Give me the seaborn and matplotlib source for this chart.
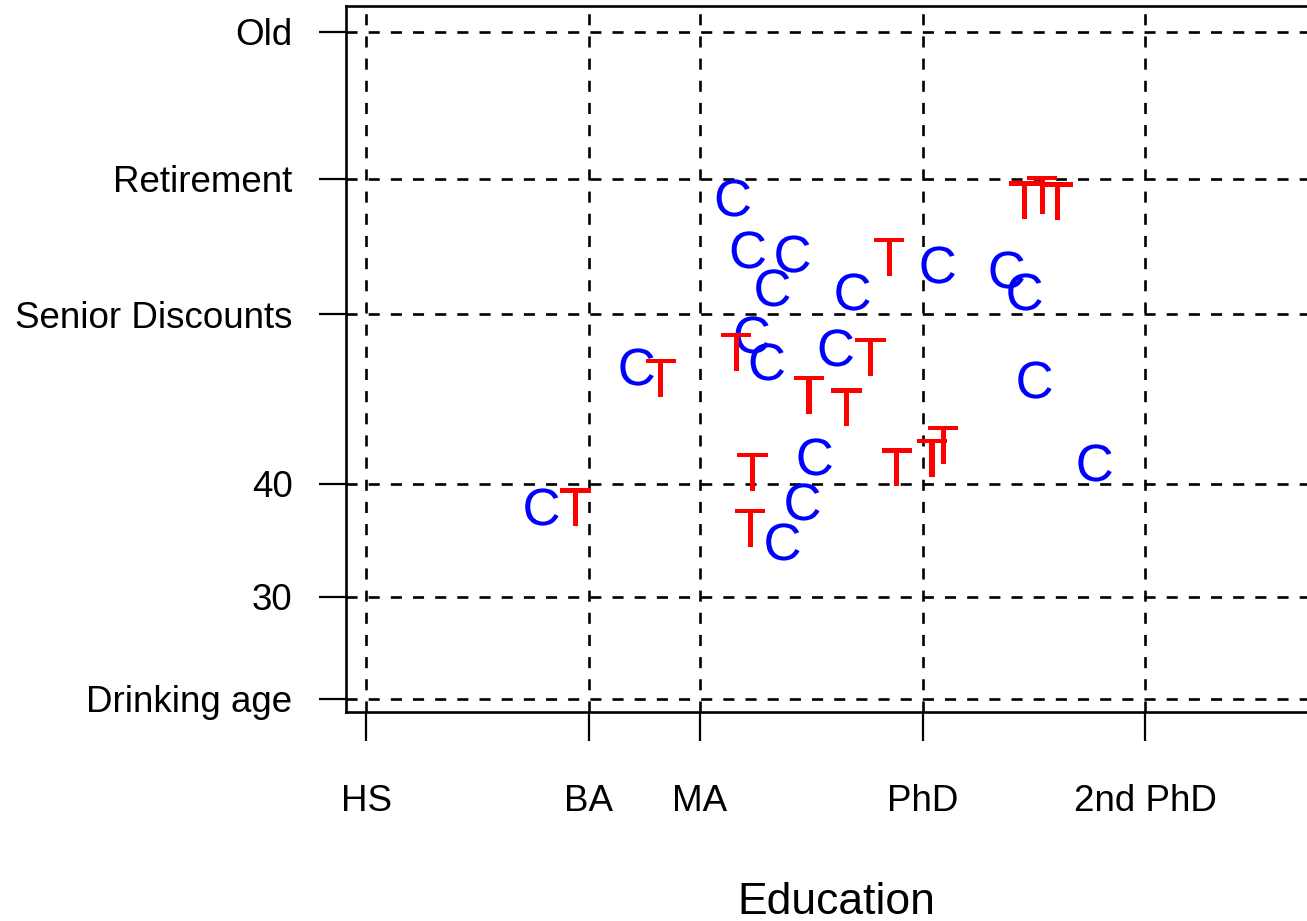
import matplotlib
matplotlib.use('Agg')
import matplotlib.pyplot as plt
import pandas as pd
import seaborn as sns

# Education in years of schooling, age in years
ctrl_edu = [15.16, 16.87, 18.60, 18.87, 19.67, 19.31, 18.94, 19.21, 20.45,
            20.75, 20.07, 19.85, 19.49, 22.28, 23.52, 23.84, 24.02, 25.10]
ctrl_age = [37.96, 50.35, 65.31, 60.71, 60.35, 57.35, 53.19, 50.80, 52.04,
            56.99, 42.39, 38.41, 34.87, 59.38, 58.94, 56.99, 49.20, 41.86]
treat_edu = [15.76, 17.30, 18.65, 18.94, 18.90, 19.96, 20.63, 21.06, 21.40,
             21.54, 22.17, 22.37, 23.83, 24.15, 24.42]
treat_age = [37.96, 49.38, 51.68, 41.06, 36.11, 47.88, 46.81, 51.24, 60.09,
             41.50, 42.30, 43.45, 65.13, 65.58, 65.04]

edu_ticks = [12, 16, 18, 22, 26]
edu_labels = ['HS', 'BA', 'MA', 'PhD', '2nd PhD']
age_ticks = [21, 30, 40, 55, 67, 80]
age_labels = ['Drinking age', '30', '40', 'Senior Discounts', 'Retirement', 'Old']

df = pd.DataFrame({
    'education': ctrl_edu + treat_edu,
    'age': ctrl_age + treat_age,
    'group': ['C'] * len(ctrl_edu) + ['T'] * len(treat_edu),
})

sns.set_theme(style='white')
plt.rcParams['font.family'] = ['Liberation Sans', 'DejaVu Sans']
plt.rcParams['mathtext.fontset'] = 'custom'
plt.rcParams['mathtext.rm'] = 'Liberation Sans'
plt.rcParams['mathtext.it'] = 'Liberation Sans'
plt.rcParams['text.color'] = 'black'
plt.rcParams['axes.labelcolor'] = 'black'

W, H = 1307, 921
fig = plt.figure(figsize=(W / 100, H / 100), dpi=100)
ax = fig.add_axes([346 / W, 1 - 712 / H, 980 / W, 706 / H])

sns.scatterplot(data=df, x='education', y='age', hue='group', style='group',
                markers={'C': '$C$', 'T': '$T$'},
                palette={'C': 'blue', 'T': 'red'},
                s=720, linewidth=0, legend=False, ax=ax, zorder=3)

ax.set_xlim(11.64, 29.25)
ax.set_ylim(19.82, 82.3)
ax.set_xticks(edu_ticks)
ax.set_xticklabels(edu_labels)
ax.set_yticks(age_ticks)
ax.set_yticklabels(age_labels)

ax.grid(True, color='black', linestyle=(0, (4.2, 4.2)), linewidth=1.9)
ax.set_axisbelow(True)

for side in ['left', 'bottom', 'top']:
    ax.spines[side].set_color('black')
    ax.spines[side].set_linewidth(1.9)
ax.spines['right'].set_visible(False)

ax.tick_params(axis='y', direction='out', length=19.5, width=1.6,
               pad=19, labelsize=26.5, colors='black', left=True)
ax.tick_params(axis='x', direction='out', length=21, width=1.6,
               pad=31, labelsize=26.5, colors='black', bottom=True)

ax.set_xlabel('Education', fontsize=32, labelpad=45, color='black')
ax.set_ylabel('')

fig.savefig('out.png', dpi=100)
plt.close()
